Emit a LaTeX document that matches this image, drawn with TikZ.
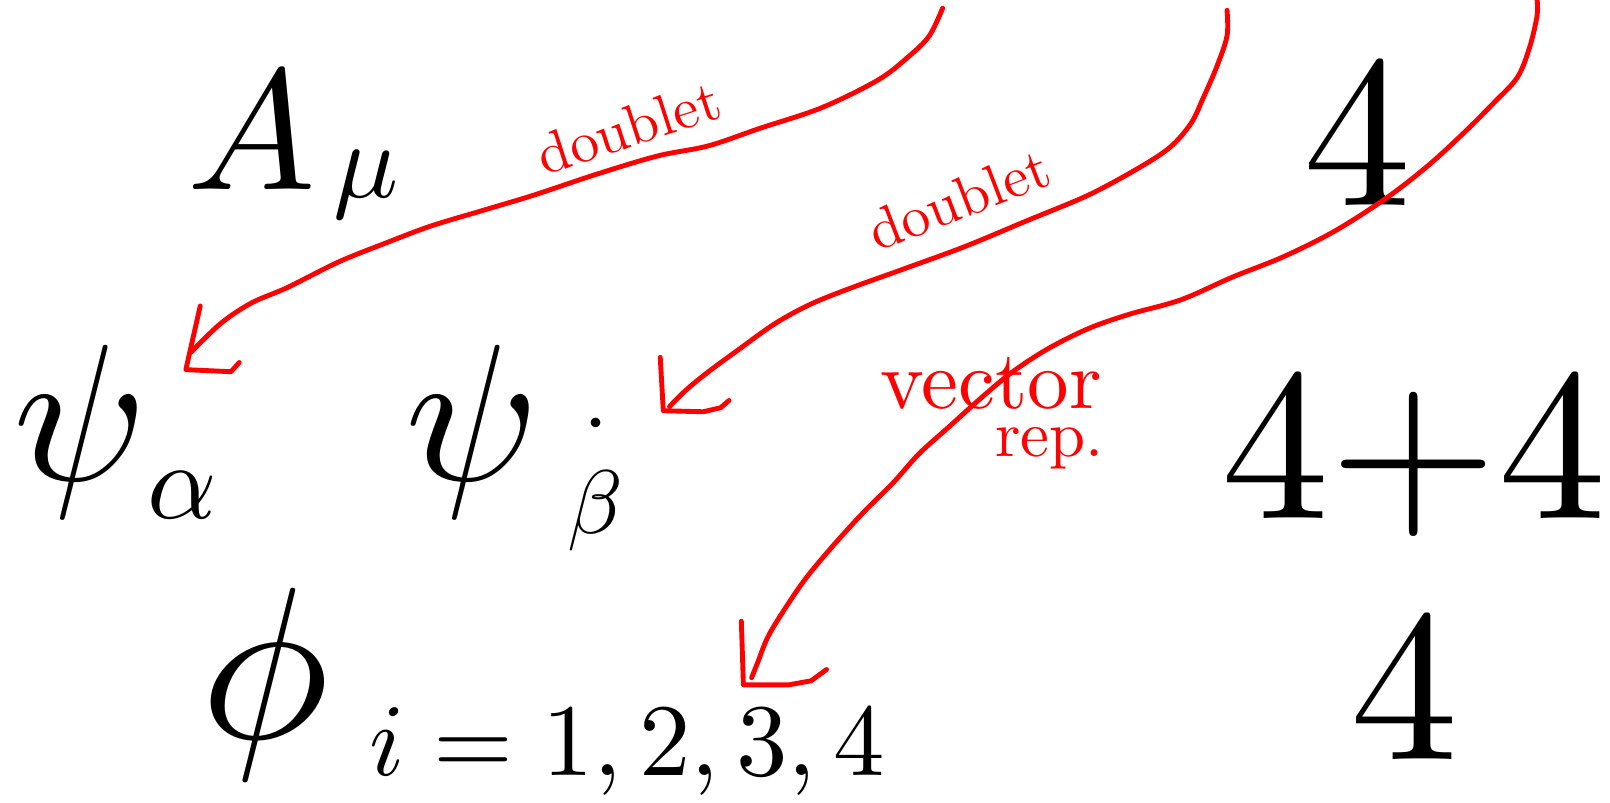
\documentclass[tikz,border=0pt]{standalone}
\usepackage{amsmath}
\begin{document}
\begin{tikzpicture}[x=0.02cm,y=-0.02cm,
  sym/.style={inner sep=0pt,text=black},
  redline/.style={draw=red,line width=2.7pt,line cap=round,line join=round},
  redlabel/.style={inner sep=0pt,text=red}]
\useasboundingbox (0,0) rectangle (1568,782);
% fields
\node[sym,scale=9.5,anchor=base] (A) at (245,185) {$A$};
\node[sym,scale=6,anchor=base] (mu) at (357,192) {$\mu$};
\node[sym,scale=10.8,anchor=base] (psiA) at (78,468) {$\psi$};
\node[sym,scale=6,anchor=base] (alpha) at (178,505) {$\alpha$};
\node[sym,scale=10.8,anchor=base] (psiB) at (460,468) {$\psi$};
\node[sym,scale=5,anchor=base] (beta) at (580,520) {$\dot{\beta\rule{0pt}{1.05em}}$};
\node[sym,scale=12,anchor=base] (phi) at (258,719) {$\phi$};
\node[sym,scale=5.7,anchor=base west] (idx) at (358,755) {$i=1,2,3,4$};
\node[sym,scale=12,anchor=base] (fourA) at (1322,200) {4};
\node[sym,scale=12,anchor=base] (fourB) at (1377,505) {4+4};
\node[sym,scale=12,anchor=base] (fourC) at (1368,740) {4};
% labels
\node[redlabel,scale=3.2,rotate=18] (d1) at (612,124) {doublet};
\node[redlabel,scale=3.2,rotate=21] (d2) at (934,194) {doublet};
\node[redlabel,scale=4.6,anchor=base] (vec) at (965,398) {vector};
\node[redlabel,scale=3.6,anchor=base] (rep) at (1022,445) {rep.};
% arrows
\coordinate (s1) at (918,8);
\coordinate (e1) at (186,343);
\coordinate (c1) at (181,360);
\coordinate (s2) at (1195,10);
\coordinate (e2) at (652,396);
\coordinate (c2) at (646,400);
\coordinate (s3) at (1497,0);
\coordinate (e3) at (732,660);
\coordinate (c3) at (724,667);
\draw[redline] plot[smooth,tension=0.55] coordinates {(s1) (905,35) (885,55) (855,78) (800,105) (740,125) (690,142) (640,152) (580,170) (520,190) (470,205) (420,220) (380,235) (330,255) (280,280) (245,295) (215,315) (e1)};
\draw[redline] (195,298) -- (c1) -- (225,362) -- (233,353);
\draw[redline] plot[smooth,tension=0.55] coordinates {(s2) (1195,35) (1185,65) (1172,95) (1160,120) (1140,143) (1110,163) (1060,190) (1000,215) (940,240) (880,262) (830,280) (790,296) (755,315) (720,340) (690,362) (668,380) (e2)};
\draw[redline] (643,348) -- (c2) -- (685,401) -- (702,397) -- (710,390);
\draw[redline] plot[smooth,tension=0.55] coordinates {(s3) (1497,15) (1490,45) (1478,75) (1455,100) (1425,130) (1390,162) (1350,193) (1300,225) (1250,250) (1200,270) (1150,292) (1100,306) (1060,320) (1020,340) (985,363) (955,388) (925,415) (895,442) (870,470) (840,500) (810,533) (785,563) (765,592) (748,620) (738,645) (e3)};
\draw[redline] (722,605) -- (c3) -- (768,667) -- (790,663) -- (805,652);
\end{tikzpicture}
\end{document}
